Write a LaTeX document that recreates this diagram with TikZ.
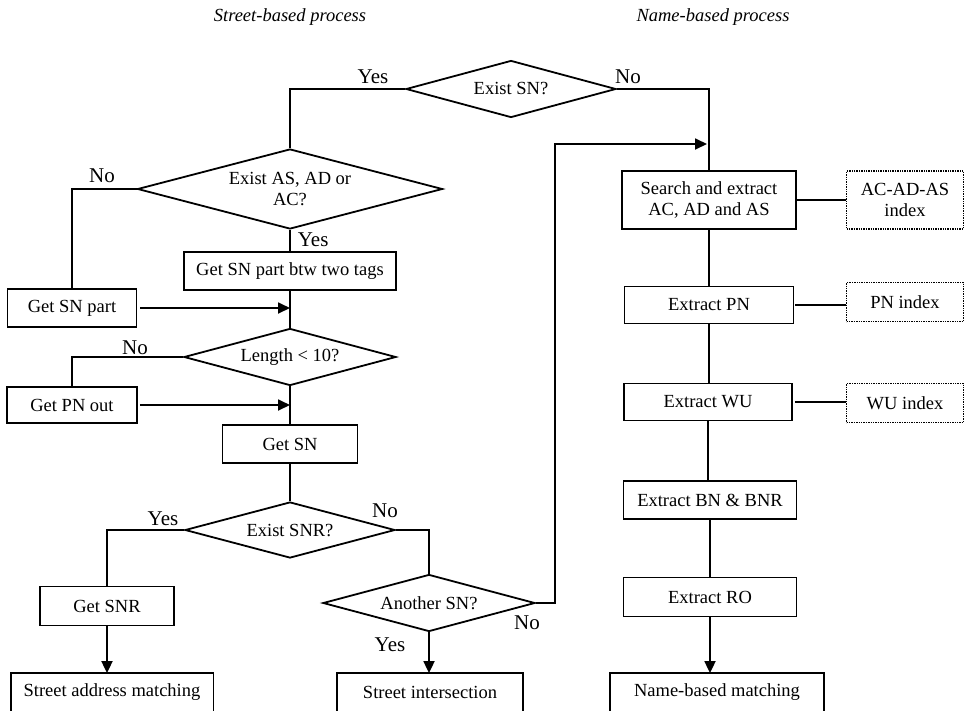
\documentclass[tikz,border=0pt]{standalone}
\usepackage{fontspec}
\setmainfont{Liberation Serif}
\usetikzlibrary{arrows.meta,shapes.geometric}

\begin{document}
\begin{tikzpicture}[x=1pt,y=-1pt,line width=1.8pt,
  every node/.style={font=\fontsize{18.5}{21}\selectfont},
  box/.style={draw,rectangle,inner sep=0pt,minimum height=38pt,align=center},
  endbox/.style={rectangle,inner sep=0pt,minimum height=36pt},
  idx/.style={draw,densely dotted,line width=1.4pt,inner sep=0pt,minimum width=117pt,align=center},
  dec/.style={draw,diamond,inner sep=0pt,align=center,aspect=3.7},
  lbl/.style={font=\fontsize{21}{24}\selectfont,inner sep=0pt},
  hdr/.style={font=\fontsize{18.5}{21}\selectfont\itshape},
  arr/.style={-{Triangle[length=12pt,width=11pt]}}]
\clip (0,0) rectangle (966,710);
% headers
\node[hdr] (h1) at (290,17) {Street-based process};
\node[hdr] (h2) at (713,17) {Name-based process};
% street-based side
\node[dec,minimum width=210pt,minimum height=57pt] (esn) at (511,89) {Exist SN?};
\node[dec,minimum width=305pt,minimum height=80pt,aspect=3.8] (eas) at (290,189) {Exist AS, AD or\\AC?};
\node[box,minimum width=212pt] (gtw) at (290,271) {Get SN part btw two tags};
\node[box,minimum width=129pt] (gsp) at (72,308) {Get SN part};
\node[dec,minimum width=212pt,minimum height=57pt] (len) at (290,357) {Length < 10?};
\node[box,minimum width=130pt,minimum height=36pt] (gpn) at (72,405) {Get PN out};
\node[box,minimum width=135pt] (gsn) at (290,444) {Get SN};
\node[dec,minimum width=210pt,minimum height=56pt] (esr) at (290,530) {Exist SNR?};
\node[box,minimum width=134pt,minimum height=39pt] (gsr) at (107,606) {Get SNR};
\node[dec,minimum width=212pt,minimum height=57pt] (ano) at (429,603) {Another SN?};
\node[endbox,minimum width=201pt] (sam) at (112,692) {Street address matching};
\node[endbox,minimum width=184pt] (sin) at (430,692) {Street intersection};
% name-based side
\node[box,minimum width=174pt,minimum height=58pt] (sea) at (709,200) {Search and extract\\AC, AD and AS};
\node[idx,minimum height=58pt] (iac) at (905,200) {AC-AD-AS\\index};
\node[box,minimum width=169pt,minimum height=37pt] (epn) at (709,305) {Extract PN};
\node[idx,minimum height=39pt] (ipn) at (905,302) {PN index};
\node[box,minimum width=168pt,minimum height=37pt] (ewu) at (708,402) {Extract WU};
\node[idx,minimum height=39pt] (iwu) at (905,403) {WU index};
\node[box,minimum width=173pt] (ebn) at (710,500) {Extract BN \& BNR};
\node[box,minimum width=173pt,minimum height=39pt] (ero) at (710,597) {Extract RO};
\node[endbox,minimum width=212pt] (nbm) at (717,692) {Name-based matching};
\draw (sam.south west) |- (sam.north east) -- (sam.south east);
\draw (sin.south west) |- (sin.north east) -- (sin.south east);
\draw (nbm.south west) |- (nbm.north east) -- (nbm.south east);
% connectors
\coordinate (loop) at (555,144);
\coordinate (m1) at (707,144);
\draw (esn.west) -| (eas.north);
\node[lbl] (y1) at (373,77) {Yes};
\draw (esn.east) -| (sea.north);
\node[lbl] (n1) at (628,77) {No};
\draw[arr] (ano.east) -| (loop) -- (m1);
\draw (eas.west) -| (gsp.north);
\node[lbl] (n2) at (102,176) {No};
\draw (eas.south) -- (gtw.north);
\node[lbl,anchor=west] (y2) at (297,240) {Yes};
\draw (gtw.south) -- (len.north);
\draw[arr,shorten <=3pt] (gsp.east) -- (gsp.east -| gtw.south);
\draw (len.west) -| (gpn.north);
\node[lbl] (n3) at (135,348) {No};
\draw[arr,shorten <=2pt] (gpn.east) -- (gpn.east -| gsn.north);
\draw (len.south) -- (gsn.north);
\draw (gsn.south) -- (esr.north);
\draw (esr.west) -| (gsr.north);
\node[lbl] (y3) at (163,519) {Yes};
\draw (esr.east) -| (ano.north);
\node[lbl] (n4) at (385,511) {No};
\draw[arr] (gsr.south) -- (gsr.south |- sam.north);
\draw[arr] (ano.south) -- (ano.south |- sin.north);
\node[lbl] (y4) at (390,645) {Yes};
\node[lbl] (n5) at (527,623) {No};
\draw (sea.east) -- (sea.east -| iac.west);
\draw[shorten <=1pt] (epn.east) -- (epn.east -| ipn.west);
\draw[shorten <=2pt] (ewu.east) -- (ewu.east -| iwu.west);
\draw (sea.south) -- (sea.south |- epn.north);
\draw (epn.south) -- (epn.south |- ewu.north);
\draw (ewu.south) -- (ewu.south |- ebn.north);
\draw (ebn.south) -- (ero.north);
\draw[arr] (ero.south) -- (ero.south |- nbm.north);
\end{tikzpicture}
\end{document}
